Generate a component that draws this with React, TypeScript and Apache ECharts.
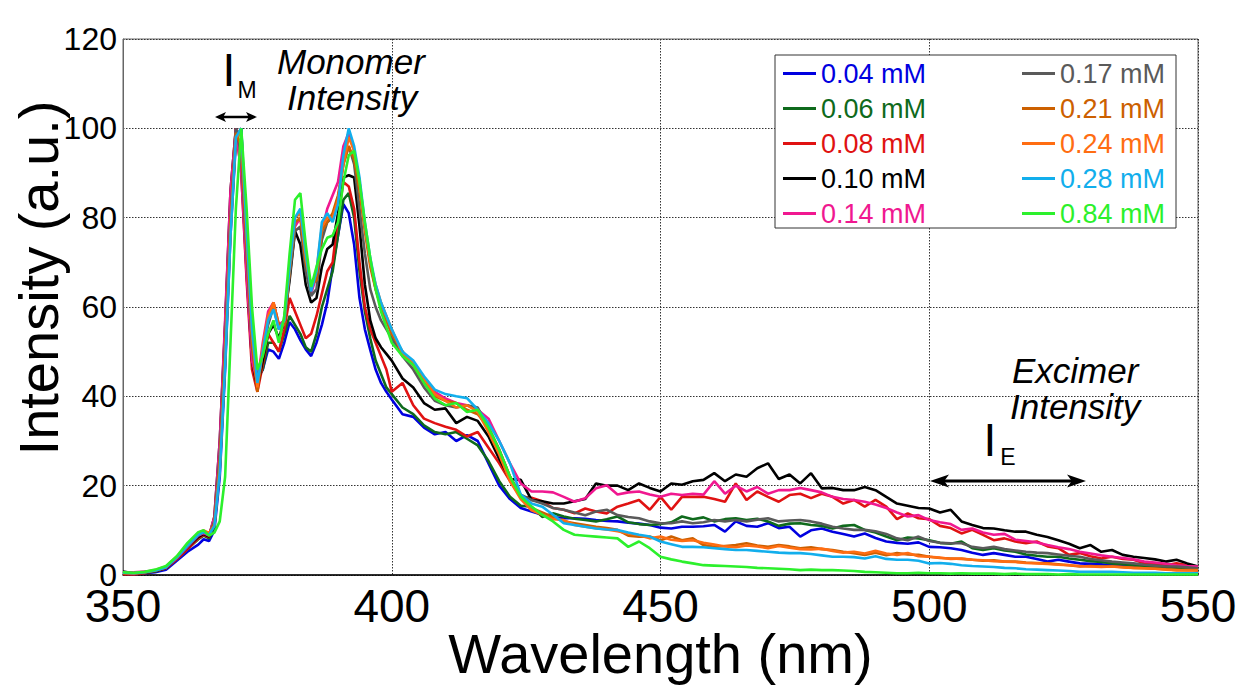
import React, { useEffect, useRef } from "react";
import * as echarts from "echarts";

const FONT = "'Liberation Sans', Arial, Helvetica, sans-serif";

// wavelength grid (nm)
const WAVELENGTH = [
  350, 352, 354, 356, 358, 360, 362, 364,
  365, 366, 367, 368, 369, 370, 371, 372, 373, 374, 375,
  376, 377, 378, 379, 380, 381, 382, 383, 384, 385, 386, 387, 388, 389, 390,
  391, 392, 393, 394, 395, 396, 397, 398, 399, 400,
  402, 404, 406, 408, 410, 412, 414, 416, 418, 420, 422, 424, 426, 428, 430,
  432, 434, 436, 438, 440, 442, 444, 446, 448, 450,
  452, 454, 456, 458, 460, 462, 464, 466, 468, 470,
  472, 474, 476, 478, 480, 482, 484, 486, 488, 490,
  492, 494, 496, 498, 500, 502, 504, 506, 508, 510,
  512, 514, 516, 518, 520, 522, 524, 526, 528, 530,
  532, 534, 536, 538, 540, 542, 544, 546, 548, 550,
];

const C004 = [
  0.3, 0.2, 0.4, 0.6, 1.2, 3.2, 5.2, 6.8,
  8, 7.6, 10, 22, 46, 76, 97, 100, 73, 52, 44,
  46, 50.5, 50, 48.4, 52, 56.6, 55, 52.6, 50.5, 49, 52, 56, 61, 69, 76, 83, 81, 74, 62, 55, 50.4, 46, 43, 41, 39.3,
  36, 35.4, 33, 31.5, 32, 30, 31.3, 30, 25, 20, 17, 15, 14.2, 13.5, 13,
  12.7, 12.7, 12.6, 12.3, 12.1, 12, 11.7, 11.5, 11.2, 10.6,
  10.4, 10.8, 10.8, 10.9, 11.2, 9.7, 12, 11, 10.8, 11.6,
  10.5, 10.8, 8.6, 10, 10.4, 9.7, 9.2, 8.6, 9.3, 8.3,
  7.5, 7.2, 7, 7.3, 6.3, 6.2, 6, 5.6, 5, 4.5,
  4.9, 4.5, 4.1, 4.1, 3.6, 3, 3.4, 3, 2.6, 2.5,
  2.4, 2.2, 2.1, 2, 1.9, 1.8, 1.6, 1.5, 1.3, 1.1,
];

const C006 = [
  0.4, 0.3, 0.5, 0.8, 1.5, 3.6, 5.8, 8,
  8.8, 8.2, 11, 24, 48, 78, 98, 100, 72, 51, 44,
  46, 52, 52, 50, 54, 58, 56, 54, 51, 50, 54, 60, 64, 68, 76, 84, 85.5, 80, 68, 59, 53, 48, 45, 42, 40.5,
  37.5, 36, 33.5, 32, 31.5, 32, 30.5, 29, 25.5, 21, 17.5, 15.5, 15.3, 13, 13.8,
  13.1, 12.6, 12.3, 12, 12.5, 13.1, 11.8, 11.4, 11.2, 11.4,
  11.8, 13.1, 12.5, 12.9, 12, 12.5, 12.7, 12.3, 12.6, 12,
  11, 11.5, 11.6, 11.2, 11, 10.4, 11, 11.2, 10.1, 9.5,
  8.6, 7.8, 8.4, 8.2, 7.8, 7.2, 7, 7.5, 6, 5.6,
  6, 5.5, 5.2, 4.6, 4.3, 4.1, 4.1, 3.7, 3.4, 3.1,
  2.9, 2.6, 2.4, 2.2, 1.9, 1.8, 1.7, 1.5, 1.3, 1.1,
];

const C008 = [
  0.2, 0.1, 0.4, 0.9, 1.5, 3.5, 5.8, 8.2,
  9, 8.5, 12, 28, 55, 84, 100, 90, 66, 46, 41,
  47, 54, 52, 50, 55, 62, 59, 56, 53, 54, 58, 63, 68, 70, 80, 88, 87, 82, 70, 60, 55, 52, 49, 46, 41,
  43, 38, 35, 34, 33.2, 32.5, 31, 32, 28.5, 25, 21, 17.5, 17.3, 16.5, 15,
  14.6, 13.8, 14.9, 14.2, 13.8, 15.3, 16, 16.8, 14.6, 17.5,
  14.6, 17.5, 17.5, 17.5, 17, 16.4, 20.5, 16.8, 18.7, 17.5,
  16.4, 17.9, 18.2, 17.2, 18.2, 17.5, 16, 16.8, 15.3, 16.8,
  15.3, 12.5, 13.8, 12.7, 12.5, 11, 10.5, 9.3, 10.1, 9,
  7.8, 8.2, 7.5, 7.1, 7.5, 6.4, 6, 4.5, 4.9, 4.2,
  3.7, 4.1, 3.6, 3.4, 2.6, 2.4, 2.2, 2.6, 2.2, 1.9,
];

const C010 = [
  0.8, 0.4, 0.5, 0.9, 1.6, 3.8, 6.2, 8.5,
  9.2, 8.6, 13, 30, 56, 86, 100, 92, 68, 48, 42,
  48, 54, 56, 53, 57, 66, 77, 74, 65, 61, 62, 69, 73, 74, 81, 89, 89.5, 89, 78, 65, 57, 53, 51, 49.5, 48,
  44, 42, 38.5, 37, 37.3, 34, 35.4, 34.5, 31, 26, 21.5, 21.3, 16.8, 16.5, 16,
  16, 16.5, 17, 20.5, 20, 20, 19, 20.5, 19.5, 18.7,
  20.5, 20.2, 21, 21.3, 22.8, 21, 22.5, 22, 23.9, 25,
  21.5, 22.5, 20.5, 22.8, 19.4, 19.5, 19, 19, 19.7, 19,
  17.5, 16, 15.5, 15, 14.9, 14, 14.6, 12, 11.2, 10.5,
  10.4, 10, 9.7, 9.7, 9, 8.5, 7.8, 7, 6, 6.7,
  5.2, 5.6, 4.5, 4.1, 3.8, 3.5, 3, 3.4, 2.6, 1.9,
];

const C014 = [
  0.5, 0.6, 0.8, 1, 1.7, 3.8, 6.3, 8.8,
  9.4, 8.8, 13, 30, 57, 86, 100, 90, 67, 48, 43,
  52, 59, 61, 56, 57, 68, 78, 80, 70, 63, 67, 77, 82, 85, 88, 96, 99, 95, 87, 78, 70, 64, 60, 57, 54,
  50, 47, 43, 41, 39.5, 38.5, 38, 37, 35, 30, 25, 20.5, 18.7, 18.7, 18.5,
  17.5, 16.4, 17.2, 19.4, 20.1, 18, 18.5, 18.7, 18, 17.5,
  18.2, 17.9, 18.2, 18, 21, 18.2, 20, 18.7, 19.7, 18.2,
  19, 19, 19.5, 19, 18.5, 17.5, 17, 16.8, 16.4, 15.8,
  15, 14, 13.1, 13.4, 12.3, 11.8, 11.4, 10.1, 10.4, 9.5,
  9, 9.2, 7.9, 7.6, 7.3, 6.7, 6.2, 5.8, 5.2, 4.8,
  4.4, 4.1, 3.8, 3.5, 3, 2.8, 2.5, 2.2, 2, 1.9,
];

const C017 = [
  0.6, 0.4, 0.5, 0.9, 1.8, 4, 6.5, 9,
  9.6, 9, 12, 27, 52, 80, 100, 94, 72, 51, 43,
  50, 56, 60, 55, 56, 67, 77, 78, 68, 62.5, 64, 75, 79, 80, 84, 92, 96, 92, 82, 72, 64, 60, 57, 55, 53,
  49, 46, 42, 39, 38, 37.5, 38, 37.5, 33, 28, 22, 18, 16.8, 16, 15,
  14.6, 14, 13.4, 14.2, 14.6, 13.4, 13, 12.7, 12, 11.6,
  11.6, 12, 11.6, 11.8, 12.3, 12, 12.3, 12, 12.4, 12.7,
  12, 12.2, 12.3, 12, 11.5, 10.8, 10.4, 10.1, 10.1, 9.8,
  9.2, 8.2, 7.8, 8.6, 7.6, 7.2, 7.1, 7.1, 6.3, 6,
  6.3, 5.8, 5.5, 5.2, 5, 4.9, 4.6, 4.3, 4.1, 3.6,
  3.3, 3, 2.8, 2.6, 2.3, 2.1, 1.9, 1.9, 1.7, 1.5,
];

const C021 = [
  0.4, 0.3, 0.6, 1, 1.8, 4, 6.6, 9.2,
  9.8, 9.2, 11.5, 25, 50, 79, 99, 96, 74, 52, 41,
  50, 57, 61, 56, 56, 68, 79, 80, 70, 65, 66, 77, 79, 81, 85, 92, 96, 93, 86, 77, 69, 64, 60, 57, 54,
  50, 47, 43, 40, 39, 38.5, 37, 36, 33, 28, 22, 17.5, 15, 14, 13,
  12, 11.6, 11.2, 10.8, 10.5, 10.1, 8.8, 8.6, 8.6, 7.8,
  8.6, 7.8, 8.2, 6.7, 6.3, 6.5, 6.7, 7.1, 6.6, 6.3,
  6.7, 6.4, 6, 6.2, 5.8, 5.6, 5.2, 4.9, 4.5, 5,
  4.4, 4.9, 4.6, 4.5, 4.1, 3.8, 3.7, 3.6, 3.4, 3.2,
  3.3, 3, 3, 2.8, 2.7, 2.6, 2.4, 2.2, 1.9, 2,
  1.9, 1.9, 1.8, 1.6, 1.5, 1.4, 1.3, 1.1, 1.1, 1.1,
];

const C024 = [
  0.5, 0.4, 0.6, 1.1, 1.9, 4.1, 6.8, 9.4,
  10, 9.4, 11, 24, 48, 77, 98, 99, 76, 54, 42,
  51, 58, 61, 55, 57, 69, 80, 81, 71, 64, 68, 78, 80, 80, 84, 92, 98, 95, 88, 78, 70, 65, 61, 58, 55,
  49.5, 47.5, 44, 40.5, 39, 37.5, 38, 36.5, 32, 27, 21, 17, 14.5, 13.5, 12.5,
  12.3, 11.2, 10.8, 10.5, 10.2, 9.8, 9.3, 8.9, 8.2, 8.6,
  7.9, 7.6, 7.8, 7.2, 6.8, 6.4, 6.2, 6.6, 6.4, 6,
  6.5, 6.1, 5.8, 5.7, 5.9, 5.4, 5, 5.2, 4.8, 5.4,
  4.8, 4.5, 4.9, 4.2, 4.1, 3.9, 3.6, 3.7, 3.4, 3.3,
  3.1, 3, 2.9, 2.7, 2.6, 2.5, 2.3, 2.2, 2, 1.9,
  1.8, 1.9, 1.7, 1.6, 1.5, 1.4, 1.2, 1.1, 1, 1,
];

const C028 = [
  0.5, 0.4, 0.6, 1, 1.7, 3.9, 6.5, 9,
  9.6, 9, 11, 23, 47, 76, 98, 100, 77, 55, 43,
  50, 57, 59.5, 55, 57, 69, 80, 82, 72, 63.5, 68, 79, 81, 79, 83, 94, 100, 96, 89, 79, 71, 65, 61, 58, 55,
  50, 48, 44.5, 41.5, 40.5, 40, 39.6, 37, 34, 30, 25, 18, 16, 15.3, 13.5,
  11.6, 11.2, 10.8, 10.4, 10.2, 10.1, 9.5, 9, 8.6, 7.5,
  6.9, 6.3, 6.3, 6.2, 6, 5.8, 5.6, 5.6, 5.4, 5.2,
  5, 4.9, 4.9, 4.7, 4.4, 4.1, 4.1, 4, 3.7, 4.2,
  3.6, 3.4, 3.4, 3.2, 2.6, 2.7, 2.5, 2.2, 2, 1.9,
  1.8, 1.6, 1.5, 1.3, 1.2, 1.1, 1, 0.9, 0.7, 0.7,
  0.7, 0.7, 0.6, 0.5, 0.5, 0.5, 0.4, 0.4, 0.4, 0.4,
];

const C084 = [
  0.6, 0.5, 0.7, 1.2, 2, 4.2, 7.2, 9.6,
  10, 8.8, 9.5, 12, 22, 52, 82, 100, 82, 60, 46,
  49, 54, 57, 52, 58, 72, 84, 85.5, 74, 64.5, 69, 73, 75.5, 76, 79, 88, 94, 95, 88, 79, 71, 64, 59, 55.5, 52,
  49, 47, 43, 39.5, 38, 38.5, 36.5, 37, 33, 28, 22, 17.5, 15.3, 13.5, 12,
  10.1, 9, 8.8, 8.6, 8.4, 8.2, 6.3, 7.5, 6, 4.1,
  3.5, 3, 2.6, 2.2, 2.1, 2, 1.9, 1.8, 1.6, 1.5,
  1.4, 1.3, 1.1, 1.2, 1.1, 1.1, 1, 0.9, 0.7, 0.6,
  0.5, 0.4, 0.4, 0.5, 0.4, 0.4, 0.3, 0.4, 0.3, 0.3,
  0.3, 0.2, 0.3, 0.2, 0.2, 0.2, 0.1, 0.2, 0.1, 0.1,
  0.1, 0.1, 0.1, 0.1, 0.1, 0.1, 0.1, 0.1, 0.1, 0.1,
];

const SERIES_NAMES = [
  "0.04 mM", "0.06 mM", "0.08 mM", "0.10 mM", "0.14 mM",
  "0.17 mM", "0.21 mM", "0.24 mM", "0.28 mM", "0.84 mM",
];
const SERIES_VALUES = [C004, C006, C008, C010, C014, C017, C021, C024, C028, C084];
const COLORS = [
  "#0000e0", "#0f6a1c", "#e01212", "#000000", "#f01890",
  "#5a5a5a", "#cc6000", "#ff6d12", "#12aeec", "#2cf02c",
];

const X_TICKS = { min: 350, max: 550, step: 50 };
const Y_TICKS = { min: 0, max: 120, step: 20 };
const X_TITLE = "Wavelength (nm)";
const Y_TITLE = "Intensity (a.u.)";

export default function App() {
  const ref = useRef<HTMLDivElement>(null);

  useEffect(() => {
    if (!ref.current) return;
    const chart = echarts.init(ref.current, undefined, { renderer: "svg" });

    const series = SERIES_NAMES.map((name, k) => ({
      name,
      type: "line",
      data: WAVELENGTH.map((w, i) => [w, SERIES_VALUES[k][i]]),
      showSymbol: false,
      symbol: "none",
      lineStyle: { color: COLORS[k], width: 2.6 },
      itemStyle: { color: COLORS[k] },
      z: 2 + k * 0.01,
    }));

    const legendCol = (from: number, to: number, left: number) => ({
      data: SERIES_NAMES.slice(from, to).map((n, i) => ({
        name: n,
        textStyle: { color: COLORS[from + i] },
      })),
      orient: "vertical",
      left,
      top: 60,
      padding: 0,
      itemWidth: 33,
      itemHeight: 3,
      itemGap: 8,
      icon: "rect",
      z: 10,
      textStyle: { fontSize: 27, fontFamily: FONT, lineHeight: 26 },
    });

    const text = (t: string, x: number, y: number, size: number, italic = false, align = "left", rotation = 0) => ({
      type: "text",
      x,
      y,
      rotation,
      z: 20,
      style: {
        text: t,
        fill: "#000",
        fontSize: size,
        lineHeight: Math.round(size * 0.85),
        fontStyle: italic ? "italic" : "normal",
        fontFamily: FONT,
        textAlign: align,
        textVerticalAlign: "middle",
      },
    });

    const arrow = (x1: number, x2: number, y: number, head: number, half: number, lw: number) => [
      { type: "line", z: 20, shape: { x1: x1 + head * 0.6, y1: y, x2: x2 - head * 0.6, y2: y }, style: { stroke: "#000", lineWidth: lw } },
      { type: "polygon", z: 20, shape: { points: [[x1, y], [x1 + head, y - half], [x1 + head * 0.75, y], [x1 + head, y + half]] }, style: { fill: "#000" } },
      { type: "polygon", z: 20, shape: { points: [[x2, y], [x2 - head, y - half], [x2 - head * 0.75, y], [x2 - head, y + half]] }, style: { fill: "#000" } },
    ];

    const option = {
      animation: false,
      backgroundColor: "#ffffff",
      grid: {
        left: 123,
        right: 45,
        top: 39,
        bottom: 116,
        show: true,
        containLabel: false,
        outerBoundsMode: "none",
        borderColor: "#666",
        borderWidth: 1,
        backgroundColor: "transparent",
      },
      xAxis: {
        type: "value",
        min: X_TICKS.min,
        max: X_TICKS.max,
        interval: X_TICKS.step,
        name: X_TITLE,
        nameLocation: "middle",
        nameGap: 57,
        nameMoveOverlap: false,
        nameTextStyle: { fontSize: 56, color: "#000", fontFamily: FONT, lineHeight: 42 },
        axisLine: { show: true, onZero: false, lineStyle: { color: "#000", width: 1.5 } },
        axisTick: { show: false },
        axisLabel: { fontSize: 46, color: "#000", fontFamily: FONT, margin: 15, lineHeight: 32 },
        splitLine: { show: true, lineStyle: { color: "#333", width: 1, type: [1.5, 1.5] } },
      },
      yAxis: {
        type: "value",
        min: Y_TICKS.min,
        max: Y_TICKS.max,
        interval: Y_TICKS.step,
        axisLine: { show: true, lineStyle: { color: "#666", width: 1 } },
        axisTick: { show: false },
        axisLabel: { fontSize: 32, color: "#000", fontFamily: FONT, margin: 6, lineHeight: 22 },
        splitLine: { show: true, lineStyle: { color: "#333", width: 1, type: [1.5, 1.5] } },
      },
      legend: [legendCol(0, 5, 783), legendCol(5, 10, 1022)],
      graphic: [
        {
          type: "rect",
          z: 3,
          shape: { x: 775, y: 55, width: 401, height: 173 },
          style: { fill: "#fff", stroke: "#333", lineWidth: 1 },
        },
        text(Y_TITLE, 38, 278, 56, false, "center", Math.PI / 2),
        text("I", 229, 70, 46, false, "center"),
        text("M", 247, 90, 23, false, "center"),
        text("Monomer", 277, 61, 35, true),
        text("Intensity", 287, 97, 35, true),
        text("Excimer", 1012, 370, 35, true),
        text("Intensity", 1010, 406, 35, true),
        text("I", 990, 440, 46, false, "center"),
        text("E", 1008, 457, 23, false, "center"),
        ...arrow(215, 257, 117, 11, 5, 2.5),
        ...arrow(930, 1086, 481, 19, 6.5, 3),
      ],
      series,
    };

    chart.setOption(option as any);
    return () => chart.dispose();
  }, []);

  return (
    <div
      ref={ref}
      style={{ position: "absolute", left: 0, top: 0, width: 1243, height: 691 }}
    />
  );
}
